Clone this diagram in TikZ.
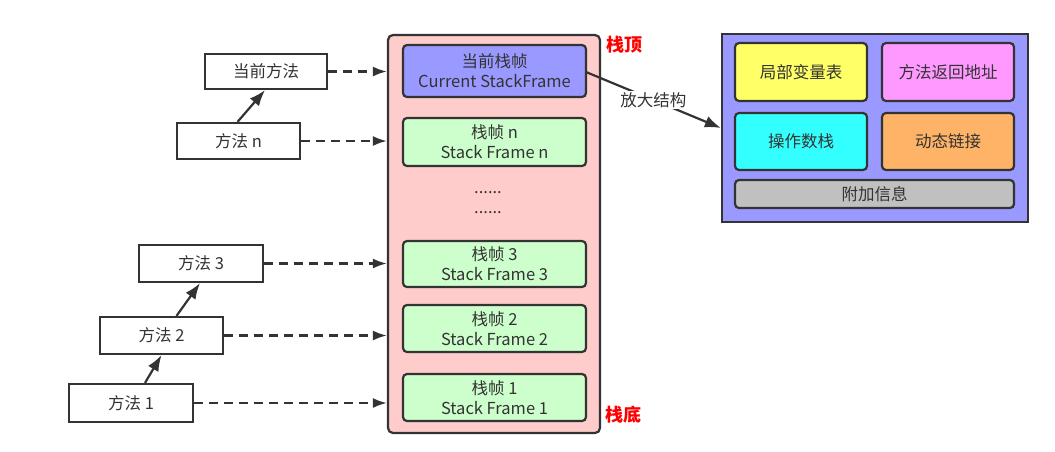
\documentclass[tikz,border=0pt]{standalone}
\usepackage{fontspec}
\setmainfont{Noto Sans CJK SC}
\usetikzlibrary{arrows.meta}
\definecolor{edge}{HTML}{333333}
\definecolor{stackpink}{HTML}{FFCCCC}
\definecolor{lav}{HTML}{9999FF}
\definecolor{lgreen}{HTML}{CCFFCC}
\definecolor{yel}{HTML}{FFFF66}
\definecolor{mag}{HTML}{FF99FF}
\definecolor{cyn}{HTML}{33FFFF}
\definecolor{org}{HTML}{FFB366}
\definecolor{gry}{HTML}{C0C0C0}
\tikzset{
  every node/.style={font=\fontsize{16.5}{20}\selectfont, text=edge},
  box/.style={draw=edge, line width=2.2pt, rounded corners=4pt, inner sep=0pt, align=center},
  mbox/.style={draw=edge, line width=2.2pt, fill=white, inner sep=0pt, align=center},
  dasharrow/.style={draw=edge, line width=2.2pt, dash pattern=on 9pt off 6pt, -{Latex[length=14pt,width=10pt]}},
  solidarrow/.style={draw=edge, line width=2.2pt, -{Latex[length=16pt,width=12pt]}},
  redlabel/.style={text=red, font=\fontsize{18}{21}\selectfont\bfseries}
}
\begin{document}
\begin{tikzpicture}[x=1pt,y=-1pt]
\useasboundingbox (0,0) rectangle (1055,451);
% stack
\node[box, fill=stackpink, rounded corners=5pt, minimum width=212pt, minimum height=398pt] (stack) at (494,234) {};
\node[box, fill=lav, minimum width=183pt, minimum height=52pt] (cur) at (494.5,71) {当前栈帧\\Current StackFrame};
\node[box, fill=lgreen, minimum width=183pt, minimum height=48pt] (fn) at (494.5,142) {栈帧 n\\Stack Frame n};
\node (dots1) at (488,193) {......};
\node (dots2) at (488,213) {......};
\node[box, fill=lgreen, minimum width=183pt, minimum height=46pt] (f3) at (494.5,264) {栈帧 3\\Stack Frame 3};
\node[box, fill=lgreen, minimum width=183pt, minimum height=47pt] (f2) at (494.5,328.5) {栈帧 2\\Stack Frame 2};
\node[box, fill=lgreen, minimum width=183pt, minimum height=47pt] (f1) at (494.5,397.5) {栈帧 1\\Stack Frame 1};
\node[redlabel] (top) at (624,45) {栈顶};
\node[redlabel] (bot) at (623,415) {栈底};
% detail box
\node[draw=edge, line width=2.2pt, fill=lav, minimum width=306pt, minimum height=188pt, inner sep=0pt] (detail) at (875,128) {};
\node[box, fill=yel, minimum width=132pt, minimum height=58pt] (lv) at (801,72) {局部变量表};
\node[box, fill=mag, minimum width=132pt, minimum height=58pt] (ra) at (948,72) {方法返回地址};
\node[box, fill=cyn, minimum width=132pt, minimum height=57pt] (os) at (801,141.5) {操作数栈};
\node[box, fill=org, minimum width=132pt, minimum height=57pt] (dl) at (948,141.5) {动态链接};
\node[box, fill=gry, minimum width=279pt, minimum height=28pt] (ai) at (874.5,194) {附加信息};
% zoom arrow
\coordinate (curR) at (586,72);
\draw[solidarrow] (curR) -- node[fill=white, inner sep=1pt] (zl) {放大结构} (detail.west);
% methods
\node[mbox, minimum width=122pt, minimum height=35pt] (mc) at (266,71.5) {当前方法};
\node[mbox, minimum width=123pt, minimum height=36pt] (mn) at (238.5,141) {方法 n};
\node[mbox, minimum width=124pt, minimum height=37pt] (m3) at (201,263.5) {方法 3};
\node[mbox, minimum width=123pt, minimum height=37pt] (m2) at (161.5,335.5) {方法 2};
\node[mbox, minimum width=124pt, minimum height=38pt] (m1) at (131,403) {方法 1};
% dashed arrows
\draw[dasharrow] (mc.east) -- (mc.east -| stack.west);
\draw[dasharrow] (mn.east) -- (mn.east -| stack.west);
\draw[dasharrow] (m3.east) -- (m3.east -| stack.west);
\draw[dasharrow] (m2.east) -- (m2.east -| stack.west);
\draw[dasharrow] (m1.east) -- (m1.east -| stack.west);
% call arrows
\draw[solidarrow] ([xshift=-1pt]mn.north) -- ([xshift=-1pt]mc.south);
\draw[solidarrow] ([xshift=14pt]m1.north) -- ([xshift=0pt]m2.south);
\draw[solidarrow] ([xshift=15pt]m2.north) -- ([xshift=-1pt]m3.south);
\end{tikzpicture}
\end{document}
